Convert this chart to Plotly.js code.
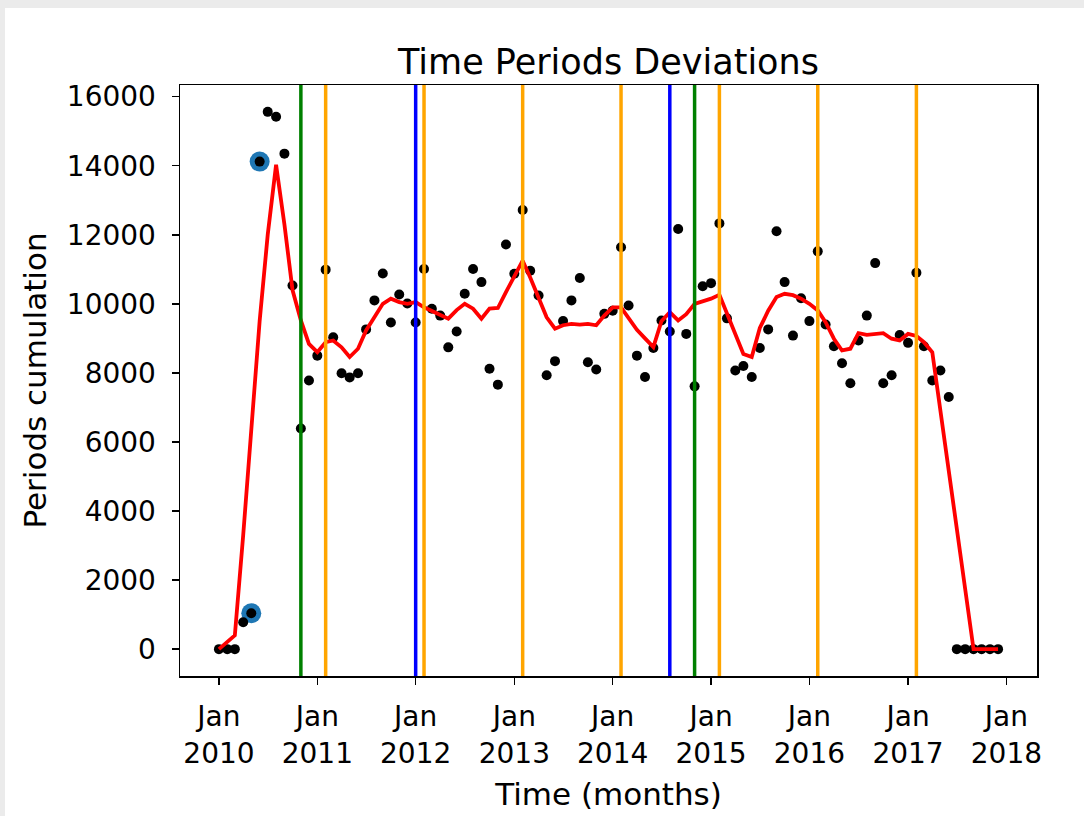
<!DOCTYPE html>
<html>
<head>
<meta charset="utf-8">
<script src="https://cdn.plot.ly/plotly-3.0.1.min.js"></script>
<style>
  html, body { margin: 0; padding: 0; background: #ebebeb; width: 1084px; height: 816px; overflow: hidden; }
  #chart { position: absolute; left: 5px; top: 8px; width: 1079px; height: 808px; background: #fff; }
</style>
</head>
<body>
<div id="chart"></div>
<script>
// ---- data (monthly values, Jan 2010 .. Dec 2017) ----
const points2010 = [0, 0, 0, 780, 1040, 14120, 15560, 15420, 14350, 10530, 6390, 7780];
const points2011 = [8500, 10990, 9030, 7990, 7870, 7990, 9260, 10100, 10880, 9460, 10270, 10010];
const points2012 = [9460, 11010, 9860, 9660, 8740, 9200, 10290, 11010, 10630, 8120, 7660, 11720];
const points2013 = [10870, 12720, 10960, 10240, 7930, 8340, 9500, 10100, 10750, 8310, 8100, 9710];
const points2014 = [9800, 11640, 9950, 8500, 7880, 8720, 9520, 9200, 12170, 9130, 7610, 10510];
const points2015 = [10600, 12330, 9580, 8070, 8200, 7880, 8720, 9260, 12100, 10630, 9080, 10160];
const points2016 = [9500, 11520, 9400, 8770, 8280, 7700, 8940, 9660, 11180, 7700, 7930, 9100];
const points2017 = [8870, 10900, 8770, 7780, 8070, 7300, 0, 0, 0, 0, 0, 0];

const trend2010 = [0, null, 400, 3300, 6300, 9500, 12000, 14030, 12300, 10400, 9520, 8840];
const trend2011 = [8600, 8890, 8940, 8740, 8460, 8700, 9230, 9610, 10000, 10150, 10050, 10000];
const trend2012 = [10050, 9900, 9790, 9660, 9570, 9820, 10000, 9860, 9570, 9860, 9880, 10340];
const trend2013 = [10800, 11250, 10760, 10200, 9610, 9280, 9380, 9420, 9400, 9420, 9380, 9660];
const trend2014 = [9900, 9900, 9610, 9250, 9000, 8750, 9500, 9760, 9520, 9700, 10000, 10070];
const trend2015 = [10150, 10260, 9700, 9100, 8550, 8460, 9300, 9800, 10200, 10290, 10250, 10150];
const trend2016 = [10000, 9810, 9470, 8990, 8650, 8700, 9150, 9100, 9130, 9150, 8990, 8940];
const trend2017 = [9130, 9070, 8890, 8600, null, null, null, null, 0, 0, 0, 0];

const highlightDates = ['2010-05-01', '2010-06-01'];
const highlightValues = [1040, 14120];

const greenDates = ['2010-11-01', '2014-11-01'];
const orangeDates = ['2011-02-01', '2012-02-01', '2013-02-01', '2014-02-01', '2015-02-01', '2016-02-01', '2017-02-01'];
const blueDates = ['2012-01-01', '2014-08-01'];

const xTickVals = ['2010-01-01', '2011-01-01', '2012-01-01', '2013-01-01', '2014-01-01', '2015-01-01', '2016-01-01', '2017-01-01', '2018-01-01'];
const xTickText = ['Jan<br>2010', 'Jan<br>2011', 'Jan<br>2012', 'Jan<br>2013', 'Jan<br>2014', 'Jan<br>2015', 'Jan<br>2016', 'Jan<br>2017', 'Jan<br>2018'];
const yTickVals = [0, 2000, 4000, 6000, 8000, 10000, 12000, 14000, 16000];

// ---- build ----
const years = [2010, 2011, 2012, 2013, 2014, 2015, 2016, 2017];
const months = [];
years.forEach(y => { for (let m = 1; m <= 12; m++) months.push(y + '-' + String(m).padStart(2, '0') + '-01'); });
const points = [].concat(points2010, points2011, points2012, points2013, points2014, points2015, points2016, points2017);
const trend = [].concat(trend2010, trend2011, trend2012, trend2013, trend2014, trend2015, trend2016, trend2017);

const FONT = 'DejaVu Sans, Verdana, sans-serif';

const traces = [
  { x: highlightDates, y: highlightValues, type: 'scatter', mode: 'markers',
    marker: { color: '#1f77b4', size: 20 }, hoverinfo: 'skip', showlegend: false },
  { x: months, y: points, type: 'scatter', mode: 'markers',
    marker: { color: '#000000', size: 10 }, showlegend: false },
  { x: months, y: trend, type: 'scatter', mode: 'lines', connectgaps: true,
    line: { color: '#ff0000', width: 3.8 }, showlegend: false }
];

function vline(d, color) {
  return { type: 'line', xref: 'x', yref: 'paper', x0: d, x1: d, y0: 0, y1: 1,
           line: { color: color, width: 3.5 }, layer: 'above' };
}
const shapes = []
  .concat(greenDates.map(d => vline(d, '#008000')))
  .concat(orangeDates.map(d => vline(d, '#ffa500')))
  .concat(blueDates.map(d => vline(d, '#0000ff')));

const layout = {
  width: 1079, height: 808,
  margin: { l: 175, r: 47, t: 77, b: 140, pad: 0 },
  paper_bgcolor: '#ffffff', plot_bgcolor: '#ffffff',
  font: { family: FONT, color: '#000000', size: 28 },
  showlegend: false,
  title: { text: 'Time Periods Deviations', font: { family: FONT, size: 35, color: '#000' },
           x: 0.5, xref: 'paper', xanchor: 'center', y: 0.933, yref: 'container', yanchor: 'middle' },
  xaxis: {
    type: 'date', range: ['2009-08-09 12:00', '2018-04-24 12:00'],
    tickmode: 'array', tickvals: xTickVals, ticktext: xTickText,
    ticks: 'outside', ticklen: 7, tickwidth: 1.5, tickcolor: '#000',
    ticklabelstandoff: 8,
    showline: true, linecolor: '#000', linewidth: 1.5, mirror: true,
    showgrid: false, zeroline: false,
    tickfont: { family: FONT, size: 28, color: '#000' },
    title: { text: 'Time (months)', font: { family: FONT, size: 31, color: '#000' }, standoff: 15 }
  },
  yaxis: {
    range: [-778, 16338],
    tickmode: 'array', tickvals: yTickVals, tickformat: 'd',
    ticks: 'outside', ticklen: 7, tickwidth: 1.5, tickcolor: '#000',
    ticklabelstandoff: 10,
    showline: true, linecolor: '#000', linewidth: 1.5, mirror: true,
    showgrid: false, zeroline: false,
    tickfont: { family: FONT, size: 28, color: '#000' },
    title: { text: 'Periods cumulation', font: { family: FONT, size: 31, color: '#000' }, standoff: 11 }
  },
  shapes: shapes
};

Plotly.newPlot('chart', traces, layout, { staticPlot: true, displayModeBar: false });
</script>
</body>
</html>
